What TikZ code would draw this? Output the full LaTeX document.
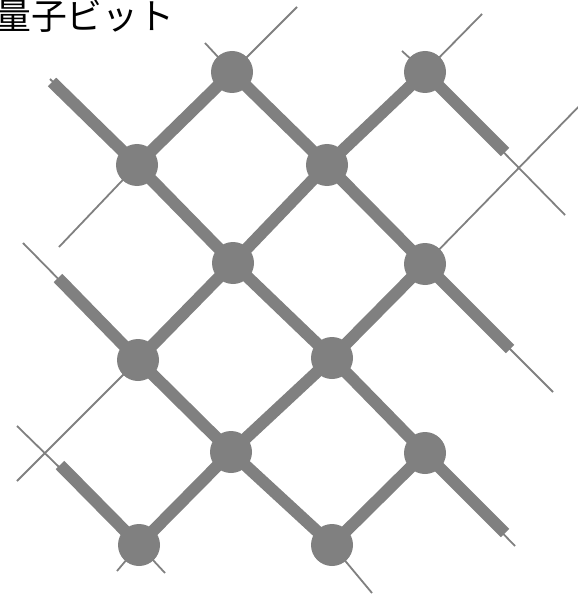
\documentclass[tikz,border=0pt]{standalone}
\usepackage{fontspec}
\newfontfamily\jpfont{Noto Sans CJK JP}
\usetikzlibrary{backgrounds}
\definecolor{cgrey}{HTML}{808080}
\tikzset{
  qubit/.style={circle, fill=cgrey, minimum size=42bp, inner sep=0pt},
  coupler/.style={draw=cgrey, line width=12bp, line cap=butt},
  lead/.style={draw=cgrey, line width=1.8bp},
  title/.style={font=\jpfont\fontsize{36}{36}\selectfont, anchor=west, inner sep=0pt},
}
\begin{document}
\begin{tikzpicture}[x=1bp, y=-1bp]
  \useasboundingbox (0,0) rectangle (578,594);
  \node[title] (label) at (-5, 16.5) {量子ビット};
  % qubits on the diagonal lattice
  \foreach \q/\x/\y in {q10/232/72, q30/425/72, q01/137/165, q21/327/165,
                        q12/233/263, q32/425/264, q03/138/360, q23/332/358,
                        q14/231/452, q34/425/453, q05/139/545, q25/332/545}
    \node[qubit] (\q) at (\x, \y) {};
  \begin{scope}[on background layer]
    \foreach \a/\b in {q10/q01, q10/q21, q30/q21, q01/q12, q21/q12, q21/q32,
                       q12/q03, q12/q23, q32/q23, q03/q14, q23/q14, q23/q34,
                       q14/q05, q14/q25, q34/q25}
      \draw[coupler] (\a.center) -- (\b.center);
    % open couplers at the border
    \foreach \q/\sx/\sy/\ex/\ey in {q01/52/82/50/79, q30/505/152/565/215,
                                    q32/510/349/553/392, q03/58/278/23/243,
                                    q05/60/465/17/426, q34/505/533/515/546} {
      \coordinate (s-\q) at (\sx, \sy); \coordinate (t-\q) at (\ex, \ey);
      \draw[lead] (\q.center) -- (t-\q); \draw[coupler] (\q.center) -- (s-\q);
    }
    % readout lines
    \foreach \q/\x/\y [count=\i] in {q10/205/43, q10/297/7, q30/402/51, q30/482/14,
                                     q01/59/247, q32/590/95, q03/17/481,
                                     q05/117/571, q05/165/573, q25/372/593} {
      \coordinate (e\i) at (\x, \y);
      \draw[lead] (\q.center) -- (e\i);
    }
  \end{scope}
\end{tikzpicture}
\end{document}
